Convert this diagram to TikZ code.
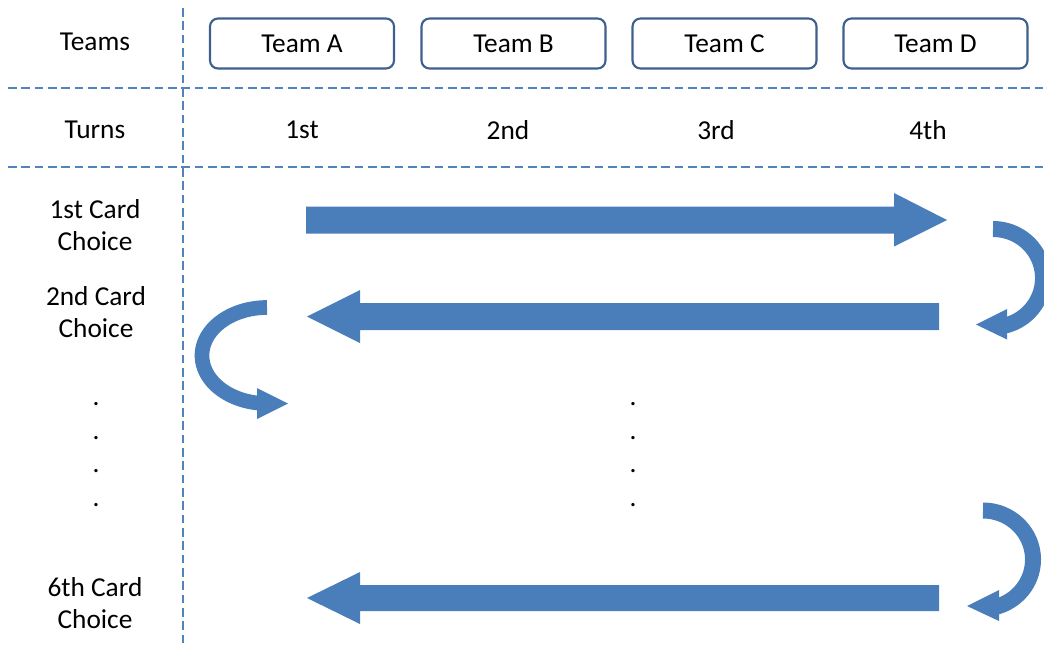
\documentclass[tikz,border=0pt]{standalone}
\usepackage{fontspec}
\setmainfont{Carlito}
\definecolor{arrowblue}{RGB}{74,126,187}
\definecolor{dashblue}{RGB}{84,130,190}
\definecolor{boxblue}{RGB}{62,96,140}
\tikzset{
  lbl/.style={font=\fontsize{20.5pt}{24pt}\selectfont, inner sep=0pt, align=center},
  teambox/.style={draw=boxblue, line width=1.6pt, rounded corners=6pt, minimum width=138pt, minimum height=37.5pt, font=\fontsize{20.5pt}{24pt}\selectfont, inner sep=0pt, text height=16pt, text depth=2pt},
  grid/.style={draw=dashblue, line width=1.1pt, dash pattern=on 6.5pt off 3.5pt},
  blockarrow/.style={fill=arrowblue, draw=none},
  band/.style={draw=arrowblue, line cap=butt},
  dotlbl/.style={font=\fontsize{20.5pt}{24pt}\selectfont, inner sep=0pt, anchor=base}
}
\begin{document}
\begin{tikzpicture}[x=0.75pt,y=-0.75pt]
\useasboundingbox (0,0) rectangle (1044,646);
\clip (0,0) rectangle (1044,646);
% grid lines
\coordinate (vtop) at (183,8);
\coordinate (vbot) at (183,646);
\coordinate (h1l) at (8,88);
\coordinate (h1r) at (1044,88);
\coordinate (h2l) at (8,167);
\coordinate (h2r) at (1044,167);
\draw[grid] (vtop) -- (vbot);
\draw[grid] (h1l) -- (h1r);
\draw[grid] (h2l) -- (h2r);
% header
\node[lbl] (teams) at (95,42) {Teams};
\node[teambox] (ta) at (302,43.5) {Team A};
\node[teambox] (tb) at (513.5,43.5) {Team B};
\node[teambox] (tc) at (724.5,43.5) {Team C};
\node[teambox] (td) at (935.5,43.5) {Team D};
\node[lbl] (turns) at (95,130) {Turns};
\node[lbl] (t1) at (302,130) {1st};
\node[lbl] (t2) at (508,130) {2nd};
\node[lbl] (t3) at (716,130) {3rd};
\node[lbl] (t4) at (928,130) {4th};
% row labels
\node[lbl] (c1) at (95,225.5) {1st Card\\Choice};
\node[lbl] (c2) at (96,312.5) {2nd Card\\Choice};
\node[lbl] (c6) at (95,603.5) {6th Card\\Choice};
% dots
\foreach \yy [count=\i] in {405,439,472,506} {
  \node[dotlbl] (ld\i) at (96,\yy) {.};
  \node[dotlbl] (rd\i) at (633,\yy) {.};
}
% straight block arrows
\fill[blockarrow] (306,206.5) -- (894,206.5) -- (894,193) -- (947,220) -- (894,246.5) -- (894,233.5) -- (306,233.5) -- cycle;
\fill[blockarrow] (939,303) -- (360,303) -- (360,290) -- (307,316.5) -- (360,343) -- (360,330) -- (939,330) -- cycle;
\fill[blockarrow] (939,585) -- (360,585) -- (360,572) -- (307,598) -- (360,624) -- (360,611) -- (939,611) -- cycle;
% curved arrow top right
\draw[band, line width=12pt] plot[domain=-90:80, samples=60, smooth] ({993+50*cos(\x)},{278+49*sin(\x)});
\fill[blockarrow] (1007,309) -- (976,324.5) -- (1007,339.5) -- cycle;
% curved arrow left
\draw[band, line width=11pt] plot[domain=-90:-263, samples=60, smooth] ({267+65*cos(\x)},{355.5+48*sin(\x)});
\fill[blockarrow] (257,388) -- (288,403.5) -- (257,419) -- cycle;
% curved arrow bottom right
\draw[band, line width=12pt] plot[domain=-90:80, samples=60, smooth] ({983+50*cos(\x)},{559.5+49*sin(\x)});
\fill[blockarrow] (999,590) -- (967,606) -- (999,621) -- cycle;
\end{tikzpicture}
\end{document}
